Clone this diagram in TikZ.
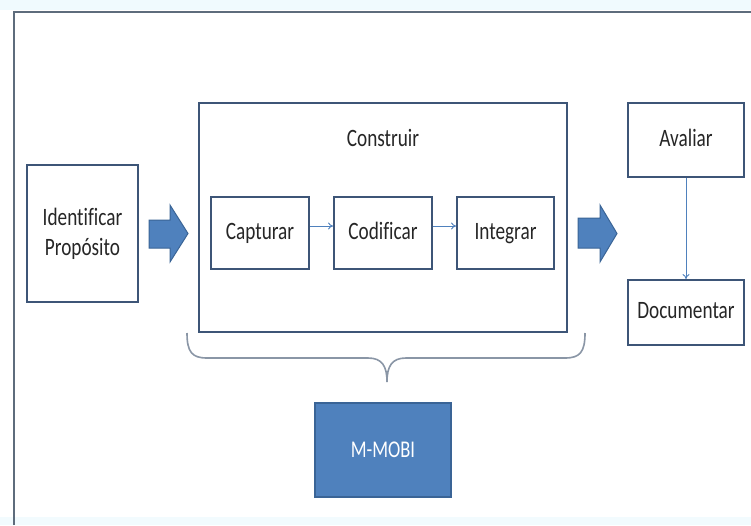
\documentclass[tikz,border=0pt]{standalone}
\usepackage{fontspec}
\setmainfont{Carlito}[FakeStretch=0.77, Ligatures=CommonOff]
\usetikzlibrary{arrows.meta}
\definecolor{boxline}{HTML}{3D5577}
\definecolor{accent}{HTML}{4F81BD}
\definecolor{accentdark}{HTML}{3A6496}
\definecolor{frameline}{HTML}{5E6C7C}
\definecolor{braceline}{HTML}{8A96A6}
\definecolor{txt}{HTML}{262626}
\tikzset{
  x=1pt, y=-1pt,
  label font/.style={font=\fontsize{25}{30}\selectfont},
  stage/.style={draw=boxline, line width=1.8pt, fill=white, text=txt,
    minimum width=#1, inner sep=0pt, align=center, label font},
  stage/.default=98pt,
  oneline/.style={text height=17pt, text depth=5pt},
  link/.style={draw=accent, line width=0.9pt, -{To[length=5pt,width=7pt]}},
  bigarrow/.style={fill=accent, draw=accentdark, line width=1pt, line join=miter},
}
\begin{document}
\begin{tikzpicture}
\useasboundingbox (0,0) rectangle (751,525);
\fill[white] (0,0) rectangle (751,525);
\fill[cyan!6] (0,0) rectangle (751,10);
\fill[cyan!5] (0,517) rectangle (751,525);
% outer frame (left and top edges)
\draw[frameline, line width=2.6pt] (14,525) -- (14,12) -- (751,12);

% stages
\node[stage=111pt, minimum height=137pt] (id) at (82.5,233.5) {Identificar\\Propósito};
\node[stage=368pt, minimum height=229pt] (con) at (383,217.5) {};
\node[text=txt, label font, oneline] (conlbl) at (383,140) {Construir};
\node[stage=98pt, minimum height=72pt, oneline] (cap) at (260,233) {Capturar};
\node[stage=98pt, minimum height=72pt, oneline] (cod) at (383,233) {Codificar};
\node[stage=97pt, minimum height=72pt, oneline] (int) at (505.5,233) {Integrar};
\node[stage=116pt, minimum height=74pt, oneline] (ava) at (686,140) {Avaliar};
\node[stage=116pt, minimum height=65pt, oneline] (doc) at (686,312.5) {Documentar};
\node[fill=accent, draw=accentdark, line width=1.2pt, minimum width=136pt, minimum height=94pt,
  text=white, font=\fontsize{24}{28}\selectfont] (mobi) at (383,450) {M-MOBI};

% thin connectors
\draw[link] ([yshift=7pt]cap.east) -- ([yshift=7pt]cod.west);
\draw[link] ([yshift=7pt]cod.east) -- ([yshift=7pt]int.west);
\draw[link] (ava.south) -- (doc.north);

% block arrows
\draw[bigarrow] (149,220) -- (170,220) -- (170,205) -- (188,233.5) -- (170,262) -- (170,248) -- (149,248) -- cycle;
\draw[bigarrow] (578,218) -- (600,218) -- (600,205) -- (617,233.5) -- (600,262) -- (600,248) -- (578,248) -- cycle;

% brace under the construction block
\coordinate (bl) at (187,333);
\coordinate (br) at (585,333);
\coordinate (bt) at (387,382);
\draw[braceline, line width=1.6pt]
  (bl) .. controls (187,352) and (192,358) .. (207,358) -- (368,358)
  .. controls (382,358) and (387,366) .. (bt)
  .. controls (387,366) and (392,358) .. (406,358) -- (565,358)
  .. controls (580,358) and (585,352) .. (br);
\end{tikzpicture}
\end{document}
